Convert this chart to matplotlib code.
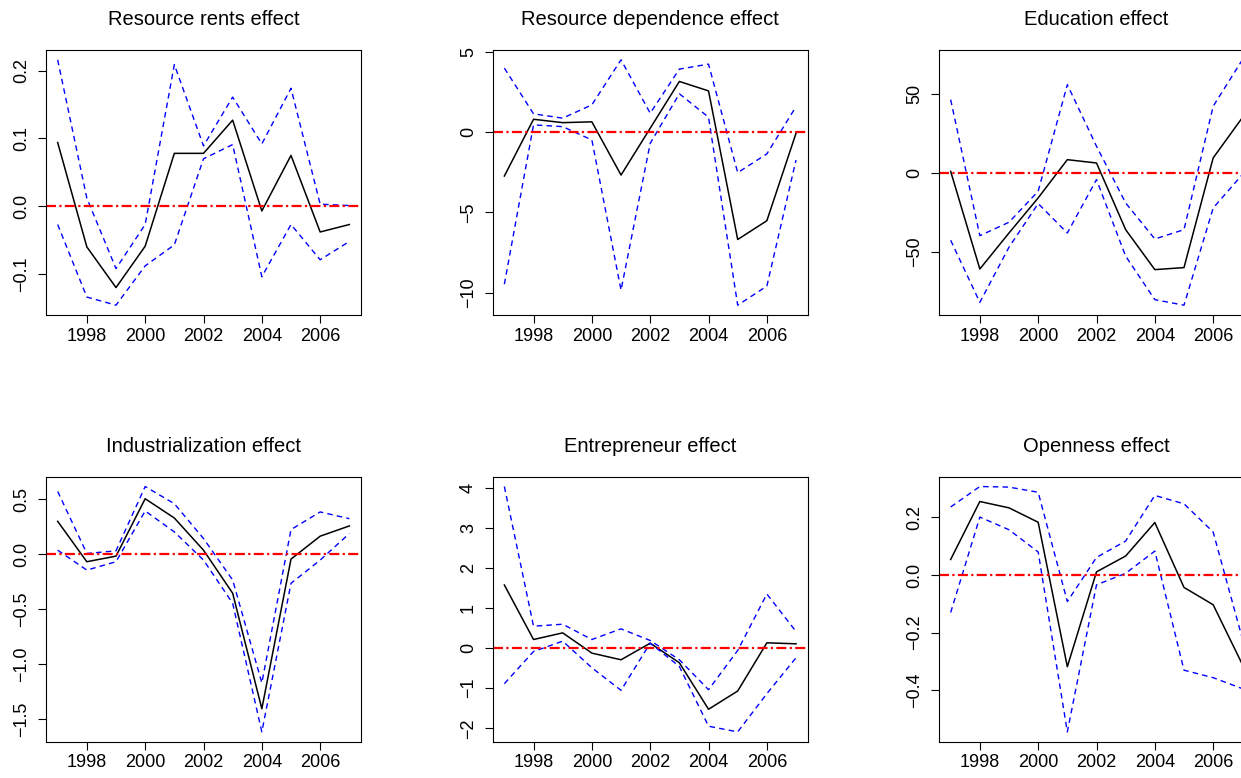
import matplotlib
matplotlib.use("Agg")
import matplotlib.pyplot as plt

plt.rcParams['font.family'] = ['Liberation Sans', 'DejaVu Sans']

years = [1997, 1998, 1999, 2000, 2001, 2002, 2003, 2004, 2005, 2006, 2007]
year_ticks = [1998, 2000, 2002, 2004, 2006]

titles = ["Resource rents effect", "Resource dependence effect", "Education effect",
          "Industrialization effect", "Entrepreneur effect", "Openness effect"]

# point estimates
rents = [0.094, -0.060, -0.120, -0.059, 0.078, 0.078, 0.127, -0.007, 0.075, -0.038, -0.027]
dependence = [-2.73, 0.81, 0.60, 0.65, -2.67, 0.25, 3.17, 2.58, -6.69, -5.52, -0.06]
education = [1.0, -60.8, -38.0, -15.8, 8.4, 6.3, -35.9, -61.2, -59.9, 9.5, 35.0]
industrial = [0.298, -0.069, -0.018, 0.503, 0.328, 0.036, -0.355, -1.404, -0.045, 0.163, 0.256]
entrepreneur = [1.574, 0.215, 0.381, -0.124, -0.29, 0.124, -0.365, -1.524, -1.069, 0.133, 0.108]
openness = [0.054, 0.255, 0.233, 0.183, -0.318, 0.011, 0.066, 0.182, -0.043, -0.103, -0.31]

# upper bands
rents_hi = [0.216, 0.012, -0.092, -0.027, 0.209, 0.089, 0.161, 0.092, 0.174, 0.003, 0.001]
dependence_hi = [4.0, 1.15, 0.88, 1.71, 4.52, 1.19, 3.94, 4.25, -2.52, -1.35, 1.60]
education_hi = [46.4, -39.7, -31.2, -11.6, 55.9, 16.9, -19.0, -41.8, -35.9, 42.2, 71.6]
industrial_hi = [0.569, 0.006, 0.030, 0.614, 0.458, 0.142, -0.235, -1.169, 0.223, 0.383, 0.322]
entrepreneur_hi = [4.03, 0.547, 0.597, 0.215, 0.481, 0.191, -0.29, -1.036, -0.058, 1.35, 0.414]
openness_hi = [0.236, 0.307, 0.305, 0.287, -0.092, 0.061, 0.118, 0.276, 0.247, 0.149, -0.22]

# lower bands
rents_lo = [-0.027, -0.134, -0.146, -0.088, -0.057, 0.070, 0.091, -0.104, -0.027, -0.079, -0.052]
dependence_lo = [-9.48, 0.46, 0.35, -0.48, -9.85, -0.69, 2.40, 0.94, -10.79, -9.60, -1.73]
education_lo = [-42.6, -81.9, -47.0, -19.4, -38.0, -4.2, -52.7, -80.2, -83.7, -22.2, -1.0]
industrial_lo = [0.036, -0.145, -0.069, 0.392, 0.202, -0.054, -0.446, -1.614, -0.265, -0.054, 0.187]
entrepreneur_lo = [-0.886, -0.083, 0.174, -0.489, -1.052, 0.124, -0.456, -1.947, -2.088, -1.135, -0.240]
openness_lo = [-0.13, 0.201, 0.157, 0.080, -0.544, -0.034, 0.006, 0.083, -0.330, -0.356, -0.394]

y_ticks = [[-0.1, 0.0, 0.1, 0.2], [-10, -5, 0, 5], [-50, 0, 50],
           [-1.5, -1.0, -0.5, 0.0, 0.5], [-2, -1, 0, 1, 2, 3, 4], [-0.4, -0.2, 0.0, 0.2]]
y_decimals = [1, 0, 0, 1, 0, 1]

mid = [rents, dependence, education, industrial, entrepreneur, openness]
hi = [rents_hi, dependence_hi, education_hi, industrial_hi, entrepreneur_hi, openness_hi]
lo = [rents_lo, dependence_lo, education_lo, industrial_lo, entrepreneur_lo, openness_lo]

W, H = 1241, 778
fig = plt.figure(figsize=(W / 100, H / 100), dpi=100)

lefts = [46, 492.7, 939]
tops = [50, 476.7]
bw, bh = 315, 265

for k in range(6):
    r, c = divmod(k, 3)
    ax = fig.add_axes([lefts[c] / W, 1 - (tops[r] + bh) / H, bw / W, bh / H])
    ax.plot(years, mid[k], color='black', lw=1.1)
    ax.plot(years, hi[k], color='blue', lw=1.0, dashes=(4, 3))
    ax.plot(years, lo[k], color='blue', lw=1.0, dashes=(4, 3))
    ax.axhline(0, color='red', lw=1.6, dashes=(4.5, 1.5, 1, 1.5))
    ax.margins(x=0.04, y=0.04)

    ax.set_xticks(year_ticks)
    ax.set_xticklabels([str(y) for y in year_ticks])
    ax.set_yticks(y_ticks[k])
    ax.set_yticklabels([f"{v:.{y_decimals[k]}f}".replace('-', '\u2212') for v in y_ticks[k]],
                       rotation=90, va='center')
    ax.tick_params(axis='both', direction='out', length=5.8, width=0.8, labelsize=13)
    ax.tick_params(axis='x', pad=3.2)
    ax.tick_params(axis='y', pad=5.5)
    for s in ax.spines.values():
        s.set_linewidth(0.8)
    ax.set_title(titles[k], fontsize=14.5, pad=18)

fig.savefig("out.png", dpi=100)
